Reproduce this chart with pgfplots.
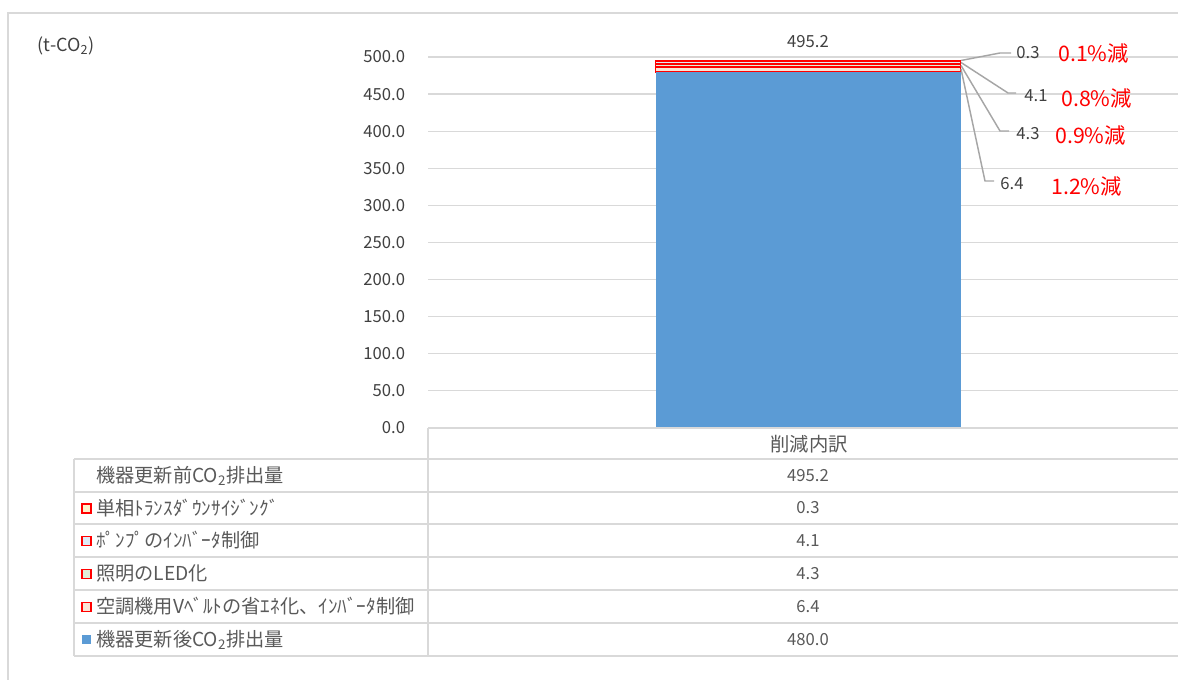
\documentclass[border=0pt]{standalone}
\usepackage{fontspec}
\setmainfont{Noto Sans CJK JP}
\usepackage{pgfplots}
\pgfplotsset{compat=1.18}
\definecolor{gridc}{HTML}{D9D9D9}
\definecolor{barblue}{HTML}{5B9BD5}
\definecolor{txt}{HTML}{595959}
\definecolor{lbl}{HTML}{404040}
\definecolor{lead}{HTML}{A6A6A6}
\definecolor{redc}{HTML}{FF0000}
\definecolor{pY}{HTML}{FFF2CC}
\definecolor{pB}{HTML}{DEEBF7}
\definecolor{pG}{HTML}{E2F0D9}
\definecolor{pP}{HTML}{FBE5D6}
\begin{document}
\begin{tikzpicture}[x=0.75pt,y=0.75pt]
\useasboundingbox (0,0) rectangle (1178,680);
% outer frame
\draw[gridc,line width=1.2pt] (8,0) -- (8,667) -- (1190,667);
\begin{axis}[
  at={(321pt,189pt)}, anchor=south west,
  scale only axis, width=570pt, height=278.25pt,
  xmin=-0.5, xmax=0.5, ymin=0, ymax=500,
  axis line style={draw=none}, clip=false,
  ymajorgrids, grid style={gridc,line width=0.9pt},
  xtick=\empty, ytick={0,50,...,500},
  major tick length=0pt, tick style={draw=none},
  /pgf/number format/fixed, /pgf/number format/fixed zerofill,
  /pgf/number format/precision=1, /pgf/number format/assume math mode=true,
  yticklabel style={anchor=east, inner sep=0pt, xshift=-17pt, font=\fontsize{12.5}{13}\selectfont, text=lbl},
  ybar stacked, bar width=228.75pt,
]
\addplot[fill=barblue, draw=none] coordinates {(0,480.0)};
\addplot[fill=pP, draw=redc, line width=1.2pt] coordinates {(0,6.4)};
\addplot[fill=pG, draw=redc, line width=1.2pt] coordinates {(0,4.3)};
\addplot[fill=pB, draw=redc, line width=1.2pt] coordinates {(0,4.1)};
\addplot[fill=pY, draw=redc, line width=1.2pt] coordinates {(0,0.3)};
\node[text=lbl, font=\fontsize{12.5}{13}\selectfont] at (axis cs:0,240) {480.0};
\node[text=lbl, font=\fontsize{12.5}{13}\selectfont, anchor=south] at (axis cs:0,506) {495.2};
\end{axis}
% y unit
\node[text=lbl, font=\fontsize{13.5}{14}\selectfont, anchor=west] at (33,634) {(t-CO\textsubscript{2})};
% leader lines and labels
\begin{scope}[lead, line width=1.1pt]
\draw (961,619.5) -- (1000,627) -- (1011,627);
\draw (961,617.5) -- (1008,587) -- (1016,587);
\draw (961,614.5) -- (1000,549) -- (1009,549);
\draw (961,611) -- (985,499) -- (994,499);
\end{scope}
\begin{scope}[font=\fontsize{12.5}{13}\selectfont, text=lbl]
\node at (1028,627) {0.3};
\node at (1036,584) {4.1};
\node at (1028,546) {4.3};
\node at (1012,496) {6.4};
\end{scope}
\begin{scope}[font=\fontsize{16}{17}\selectfont, text=redc]
\node[anchor=west, inner sep=0pt] at (1058,627) {0.1\%減};
\node[anchor=west, inner sep=0pt] at (1061,582) {0.8\%減};
\node[anchor=west, inner sep=0pt] at (1055,545) {0.9\%減};
\node[anchor=west, inner sep=0pt] at (1051,494) {1.2\%減};
\end{scope}
% data table
\begin{scope}[gridc, line width=1.2pt]
\draw (428,252) -- (1190,252);
\foreach \yy in {221,188,156,123,90,57,24} \draw (74,\yy) -- (1190,\yy);
\draw (74,221) -- (74,24);
\draw (428,252) -- (428,24);
\end{scope}
\node[text=txt, font=\fontsize{14.5}{15}\selectfont] at (809,236) {削減内訳};
\begin{scope}[font=\fontsize{14.4}{15}\selectfont, text=txt]
\node[anchor=west, inner sep=0pt] at (96,204.5) {機器更新前CO\textsubscript{2}排出量};
\node[anchor=west, inner sep=0pt] at (96,172) {単相ﾄﾗﾝｽﾀﾞｳﾝｻｲｼﾞﾝｸﾞ};
\node[anchor=west, inner sep=0pt] at (96,139.5) {ﾎﾟﾝﾌﾟのｲﾝﾊﾞｰﾀ制御};
\node[anchor=west, inner sep=0pt] at (96,106.5) {照明のLED化};
\node[anchor=west, inner sep=0pt] at (96,73.5) {空調機用Vﾍﾞﾙﾄの省ｴﾈ化、ｲﾝﾊﾞｰﾀ制御};
\node[anchor=west, inner sep=0pt] at (96,40.5) {機器更新後CO\textsubscript{2}排出量};
\end{scope}
\begin{scope}[font=\fontsize{12.5}{13}\selectfont, text=txt]
\node at (808,204.5) {495.2};
\node at (808,172) {0.3};
\node at (808,139.5) {4.1};
\node at (808,106.5) {4.3};
\node at (808,73.5) {6.4};
\node at (808,40.5) {480.0};
\end{scope}
% legend keys
\begin{scope}[redc, line width=1.3pt]
\draw[fill=pY] (82,167) rectangle (91,176);
\draw[fill=pB] (82,134.5) rectangle (91,143.5);
\draw[fill=pG] (82,101.5) rectangle (91,110.5);
\draw[fill=pP] (82,68.5) rectangle (91,77.5);
\end{scope}
\fill[barblue] (82,36) rectangle (91,45);
\end{tikzpicture}
\end{document}
